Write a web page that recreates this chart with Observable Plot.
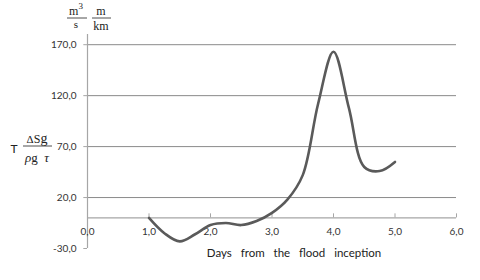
<!DOCTYPE html>
<html>
<head>
<meta charset="utf-8">
<script src="https://cdn.jsdelivr.net/npm/d3@7"></script>
<script src="https://cdn.jsdelivr.net/npm/@observablehq/plot@0.6"></script>
<style>
  html, body { margin: 0; padding: 0; background: #fff; }
  #chart { width: 480px; height: 280px; }
</style>
</head>
<body>
<div id="chart"></div>
<script>
// Data
const days = [1.0, 1.25, 1.5, 1.75, 2.0, 2.25, 2.5, 2.75, 3.0, 3.25, 3.5, 3.75, 4.0, 4.25, 4.5, 4.75, 5.0];
const values = [0, -15, -23, -16, -7, -5, -7, -3, 5, 18, 42, 112, 163, 108, 50, 46, 55];
const xTicks = [0, 1, 2, 3, 4, 5, 6];
const yTicks = [-30, 20, 70, 120, 170];
const gridValues = [20, 70, 120, 170];
const xTitle = "Days  from  the  flood  inception";

const data = days.map((d, i) => ({day: d, value: values[i]}));
const fmt = v => d3.format(".1f")(v).replace(".", ",").replace("−", "-");

const plot = Plot.plot({
  width: 480,
  height: 280,
  marginLeft: 87,
  marginRight: 24,
  marginTop: 34,
  marginBottom: 32,
  style: {background: "#fff", fontFamily: "Lato, 'Open Sans', sans-serif"},
  x: {domain: [0, 6], axis: null},
  y: {domain: [-30, 180], axis: null},
  marks: [
    Plot.ruleY(gridValues, {x1: 0, x2: 6, stroke: "#8a8a8a", strokeWidth: 1}),
    Plot.ruleY([0], {x1: 0, x2: 6, stroke: "#a6a6a6", strokeWidth: 1.2}),
    Plot.ruleX([0], {y1: -30, y2: 180, stroke: "#a6a6a6", strokeWidth: 1.2}),
    Plot.ruleX(xTicks, {y1: 0, y2: 4, stroke: "#a6a6a6"}),
    Plot.ruleY(yTicks, {x1: -0.06, x2: 0, stroke: "#a6a6a6"}),
    Plot.text(yTicks, {x: 0, y: d => d, text: fmt, textAnchor: "end", dx: -11, fontSize: 10, fill: "#333"}),
    Plot.text(xTicks, {x: d => d, y: 0, text: fmt, dy: 14, fontSize: 10, fill: "#333"}),
    Plot.line(data, {x: "day", y: "value", curve: "catmull-rom", stroke: "#5a5a5a", strokeWidth: 2.6})
  ]
});
document.getElementById("chart").appendChild(plot);

const svg = d3.select(plot);
// x axis title
svg.append("text")
  .attr("x", 294).attr("y", 257)
  .attr("text-anchor", "middle")
  .attr("font-family", "Lato, 'Open Sans', sans-serif")
  .attr("font-size", 11.5)
  .attr("fill", "#222")
  .style("word-spacing", "1.5px")
  .style("white-space", "pre")
  .text(xTitle);

// y axis label (formula)
const serif = "'Liberation Serif', 'DejaVu Serif', serif";
const g = svg.append("g").attr("font-family", serif).attr("fill", "#222");
g.append("text").attr("x", 14).attr("y", 153).attr("text-anchor", "middle")
  .attr("font-family", "Lato, sans-serif").attr("font-size", 12).text("T");
g.append("text").attr("x", 37).attr("y", 143).attr("text-anchor", "middle").attr("font-size", 14)
  .html('<tspan font-size="11">Δ</tspan><tspan font-size="12">S</tspan>g');
g.append("line").attr("x1", 23).attr("x2", 52).attr("y1", 146).attr("y2", 146).attr("stroke", "#222").attr("stroke-width", 0.8);
g.append("text").attr("x", 37).attr("y", 162).attr("text-anchor", "middle").attr("font-size", 13)
  .attr("font-style", "italic").style("white-space", "pre")
  .html('ρ<tspan font-style="normal">g</tspan>  τ');

// units
g.append("text").attr("x", 76).attr("y", 15).attr("text-anchor", "middle").attr("font-size", 12)
  .html('m<tspan font-size="9" dy="-6">3</tspan>');
g.append("line").attr("x1", 67).attr("x2", 87).attr("y1", 18).attr("y2", 18).attr("stroke", "#222").attr("stroke-width", 0.8);
g.append("text").attr("x", 76).attr("y", 28).attr("text-anchor", "middle").attr("font-size", 11).text("s");
g.append("text").attr("x", 101).attr("y", 15).attr("text-anchor", "middle").attr("font-size", 12).text("m");
g.append("line").attr("x1", 92).attr("x2", 111).attr("y1", 18).attr("y2", 18).attr("stroke", "#222").attr("stroke-width", 0.8);
g.append("text").attr("x", 101).attr("y", 30).attr("text-anchor", "middle").attr("font-size", 12).text("km");
</script>
</body>
</html>
